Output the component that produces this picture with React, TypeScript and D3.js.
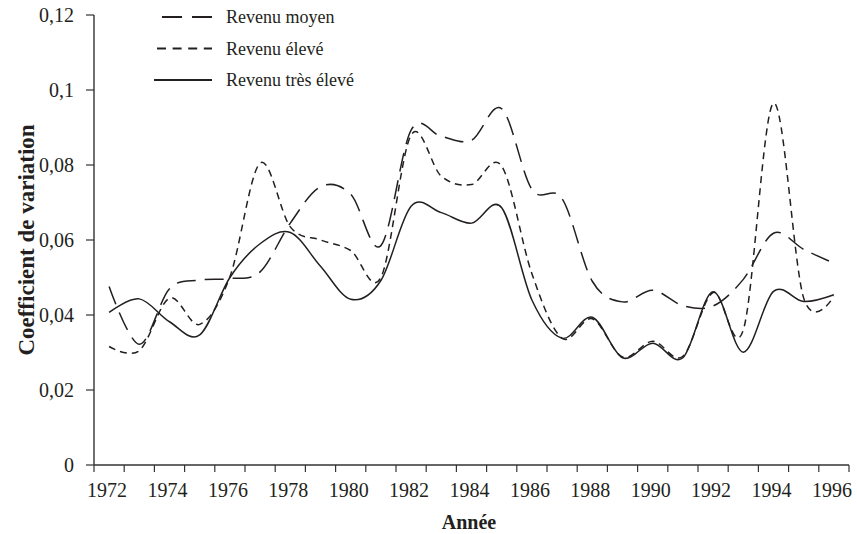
import React from "react";
import * as d3 from "d3";

const years = [
  1972, 1973, 1974, 1975, 1976, 1977, 1978, 1979, 1980, 1981, 1982, 1983, 1984,
  1985, 1986, 1987, 1988, 1989, 1990, 1991, 1992, 1993, 1994, 1995, 1996,
];

const revenuMoyen = [
  0.0476, 0.0322, 0.047, 0.0493, 0.0497, 0.0515, 0.0645, 0.0742, 0.0722, 0.0585,
  0.0893, 0.0876, 0.0866, 0.095, 0.0735, 0.071, 0.049, 0.0435, 0.0466, 0.0425,
  0.0424, 0.0495, 0.0618, 0.0575, 0.0538,
];

const revenuEleve = [
  0.0316, 0.0305, 0.0445, 0.0375, 0.0502, 0.0805, 0.0635, 0.06, 0.0572, 0.05,
  0.088, 0.077, 0.0748, 0.0797, 0.051, 0.0338, 0.039, 0.0288, 0.033, 0.029,
  0.046, 0.036, 0.0965, 0.0445, 0.045,
];

const revenuTresEleve = [
  0.0407, 0.0443, 0.0382, 0.0347, 0.05, 0.059, 0.062, 0.053, 0.0442, 0.0492,
  0.069, 0.0673, 0.0645, 0.0686, 0.044, 0.0338, 0.0394, 0.0286, 0.0325, 0.0286,
  0.0462, 0.0301, 0.0463, 0.0436, 0.0454,
];

const yTicks = [0, 0.02, 0.04, 0.06, 0.08, 0.1, 0.12];
const labelYears = [1972, 1974, 1976, 1978, 1980, 1982, 1984, 1986, 1988, 1990, 1992, 1994, 1996];

const series = [
  { name: "Revenu moyen", values: revenuMoyen, dash: "19,9", key: "20,10", x0: 162 },
  { name: "Revenu élevé", values: revenuEleve, dash: "7,5", key: "9,6.6", x0: 157 },
  { name: "Revenu très élevé", values: revenuTresEleve, dash: "", key: "", x0: 154 },
];

const W = 857;
const H = 534;
const left = 94;
const right = 849;
const top = 15;
const bottom = 465;
const ink = "#231f20";
const font = "'Liberation Serif', 'Times New Roman', serif";

const fr = d3.formatLocale({ decimal: ",", thousands: " ", grouping: [3], currency: ["", ""] });
const fmt = fr.format("~g");

export default function App() {
  const x = d3.scaleBand<number>().domain(years).range([left, right]).paddingInner(0).paddingOuter(0);
  const y = d3.scaleLinear().domain([0, 0.12]).range([bottom, top]);
  const cx = (yr: number) => (x(yr) as number) + x.bandwidth() / 2;

  // Excel-style smoothed line
  const line = d3
    .line<number>()
    .x((_, i) => cx(years[i]))
    .y((d) => y(d))
    .curve(d3.curveCardinal.tension(0));

  const boundaries = years.map((yr) => x(yr) as number).concat([right]);

  return (
    <svg width={W} height={H} style={{ position: "absolute", left: 0, top: 0, background: "#fff" }} fontFamily={font}>
      <rect width={W} height={H} fill="#fff" />

      {series.map((s) => (
        <path
          key={s.name}
          d={line(s.values) || ""}
          fill="none"
          stroke={ink}
          strokeWidth={1.5}
          strokeDasharray={s.dash || undefined}
        />
      ))}

      {/* y axis */}
      <line x1={left} x2={left} y1={top} y2={bottom} stroke="#333" strokeWidth={1.4} />
      {yTicks.map((t) => (
        <g key={t}>
          <line x1={left - 8} x2={left} y1={y(t)} y2={y(t)} stroke="#333" strokeWidth={1.2} />
          <text x={left - 20} y={y(t)} dy="0.35em" textAnchor="end" fontSize={20} fill={ink}>
            {fmt(t)}
          </text>
        </g>
      ))}

      {/* x axis, ticks between categories */}
      <line x1={left} x2={right} y1={bottom} y2={bottom} stroke="#333" strokeWidth={1.4} />
      {boundaries.map((bx, i) => (
        <line key={i} x1={bx} x2={bx} y1={bottom} y2={bottom + 7} stroke="#333" strokeWidth={1.2} />
      ))}
      {labelYears.map((yr) => (
        <text key={yr} x={cx(yr) - 2} y={497} textAnchor="middle" fontSize={20} fill={ink}>
          {yr}
        </text>
      ))}

      <text x={469} y={529} textAnchor="middle" fontSize={20} fontWeight="bold" fill={ink}>
        Année
      </text>
      <text
        transform={`translate(26, ${(top + bottom) / 2}) rotate(-90)`}
        textAnchor="middle"
        dy="0.35em"
        fontSize={23}
        fontWeight="bold"
        fill={ink}
      >
        Coefficient de variation
      </text>

      {/* legend */}
      {series.map((s, i) => {
        const ly = 17 + i * 31.5;
        return (
          <g key={s.name}>
            <line
              x1={s.x0}
              x2={212}
              y1={ly}
              y2={ly}
              stroke={ink}
              strokeWidth={2}
              strokeDasharray={s.key || undefined}
            />
            <text x={226} y={ly} dy="0.35em" fontSize={18} fill={ink}>
              {s.name}
            </text>
          </g>
        );
      })}
    </svg>
  );
}
